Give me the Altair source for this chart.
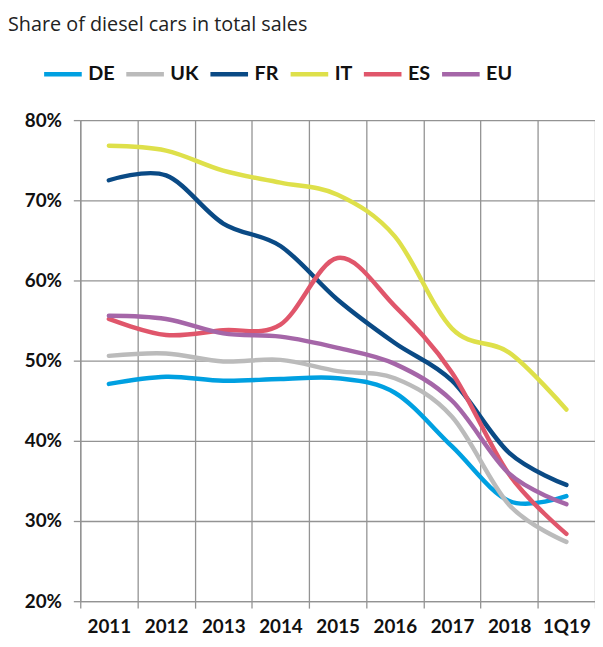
import altair as alt
import pandas as pd

years = ["2011", "2012", "2013", "2014", "2015", "2016", "2017", "2018", "1Q19"]
countries = ["DE", "UK", "FR", "IT", "ES", "EU"]
colors = ["#00A0E1", "#BBBBBB", "#0A4A85", "#DEE04A", "#E0566B", "#A566A8"]

DE = [47.1, 48.0, 47.5, 47.7, 47.8, 46.0, 39.3, 32.5, 33.1]
UK = [50.6, 50.9, 49.9, 50.1, 48.7, 47.8, 43.0, 32.0, 27.4]
FR = [72.5, 73.1, 67.1, 64.3, 57.6, 52.2, 47.5, 38.5, 34.5]
IT = [76.8, 76.2, 73.7, 72.2, 70.7, 65.5, 54.0, 51.0, 43.9]
ES = [55.2, 53.2, 53.8, 54.5, 62.8, 56.8, 48.5, 35.8, 28.4]
EU = [55.6, 55.2, 53.4, 53.0, 51.6, 49.6, 45.0, 35.9, 32.1]

series = {"DE": DE, "UK": UK, "FR": FR, "IT": IT, "ES": ES, "EU": EU}
rows = []
for c in countries:
    for y, v in zip(years, series[c]):
        rows.append({"country": c, "year": y, "value": v})
df = pd.DataFrame(rows)

grid_color = "#939393"

chart = alt.Chart(df).mark_line(
    interpolate="cardinal", strokeWidth=4.5, strokeCap="round"
).encode(
    x=alt.X(
        "year:N",
        sort=years,
        scale=alt.Scale(type="band", paddingInner=0, paddingOuter=0),
        axis=alt.Axis(
            title=None, tickBand="extent", labelAngle=0,
            labelFont="Lato", labelFontWeight="bold", labelFontSize=19,
            labelColor="#111111", labelPadding=10,
            tickSize=7, tickColor=grid_color, tickWidth=1.3,
            domainColor=grid_color, domainWidth=1.3,
            grid=True, gridColor=grid_color, gridWidth=1.3,
        ),
    ),
    y=alt.Y(
        "value:Q",
        scale=alt.Scale(domain=[20, 80], nice=False, zero=False),
        axis=alt.Axis(
            title=None, values=[20, 30, 40, 50, 60, 70, 80],
            labelExpr="datum.value + '%'",
            labelFont="Lato", labelFontWeight="bold", labelFontSize=19,
            labelColor="#111111", labelPadding=12,
            tickSize=7, tickColor=grid_color, tickWidth=1.3,
            domainColor=grid_color, domainWidth=1.3,
            grid=True, gridColor=grid_color, gridWidth=1.3,
        ),
    ),
    color=alt.Color(
        "country:N",
        sort=countries,
        scale=alt.Scale(domain=countries, range=colors),
        legend=alt.Legend(
            title=None, orient="none", legendX=-39, legendY=-68,
            direction="horizontal", columns=6,
            symbolType="stroke", symbolSize=1444, symbolStrokeWidth=4.5,
            labelFont="Lato", labelFontWeight="bold", labelFontSize=20,
            labelColor="#111111", labelOffset=4, columnPadding=2,
        ),
    ),
).properties(
    width=520,
    height=486,
    padding={"left": 73, "top": 110, "right": 0, "bottom": 42},
    autosize=alt.AutoSizeParams(type="none"),
    title=alt.TitleParams(
        "Share of diesel cars in total sales",
        anchor="start", frame="group", dx=-73, dy=-14,
        font="Open Sans", fontSize=20, fontWeight="normal", color="#222222",
    ),
).configure_view(strokeWidth=0)

chart.save("out.html", embed_options={"renderer": "svg", "actions": False})
